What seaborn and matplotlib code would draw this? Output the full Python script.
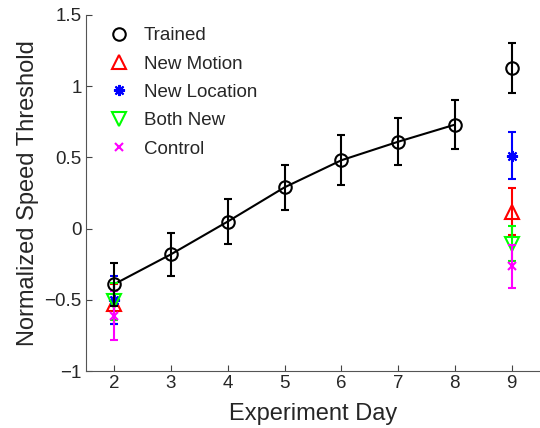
import numpy as np
import pandas as pd
import matplotlib
matplotlib.use("Agg")
import matplotlib.pyplot as plt
import seaborn as sns
from matplotlib.lines import Line2D

# values
trained_days = [2, 3, 4, 5, 6, 7, 8]
trained_mean = [-0.39, -0.18, 0.05, 0.29, 0.48, 0.61, 0.73]
trained_err = [0.15, 0.15, 0.155, 0.16, 0.175, 0.165, 0.17]

groups = ["Trained", "New Motion", "New Location", "Both New", "Control"]
colors = ["black", "red", "blue", "#00ff00", "magenta"]
markers = ["o", "^", (8, 2, 0), "v", "x"]
sizes = [9, 10.5, 8, 10.5, 6]

day2_mean = [-0.39, -0.53, -0.50, -0.51, -0.61]
day2_err = [0.15, 0.14, 0.17, 0.13, 0.17]
day9_mean = [1.13, 0.12, 0.51, -0.105, -0.265]
day9_err = [0.175, 0.165, 0.165, 0.125, 0.15]

sns.set_style("ticks")
plt.rcParams["font.family"] = ["Liberation Sans", "DejaVu Sans"]

fig = plt.figure(figsize=(5.4, 4.28), dpi=100)
ax = fig.add_axes([0.159, 0.133, 0.841, 0.832])

trained = pd.DataFrame({"day": trained_days, "mean": trained_mean})
sns.lineplot(data=trained, x="day", y="mean", color="black", lw=1.5, ax=ax)
ax.errorbar(trained_days, trained_mean, yerr=trained_err, fmt="o", color="black",
            mfc="none", ms=9, mew=1.5, elinewidth=1.5, capsize=3, capthick=1.5, zorder=5)

for i, g in enumerate(groups):
    if i == 0:
        ax.errorbar([9], [day9_mean[i]], yerr=[day9_err[i]], fmt="o", color="black",
                    mfc="none", ms=9, mew=1.5, elinewidth=1.5, capsize=3, capthick=1.5, zorder=5)
        continue
    ax.errorbar([2, 9], [day2_mean[i], day9_mean[i]], yerr=[day2_err[i], day9_err[i]],
                marker=markers[i], ls="none", color=colors[i], mfc="none", ms=sizes[i], mew=1.5,
                elinewidth=1.5, capsize=3, capthick=1.5, zorder=3 + i * 0.1)

handles = [Line2D([], [], ls="none", marker=markers[i], color=colors[i], mfc="none",
                  ms=sizes[i], mew=1.5) for i in range(len(groups))]
ax.legend(handles, groups, loc="upper left", frameon=False, fontsize=13.5,
          handlelength=1.0, handletextpad=0.8, labelspacing=0.6,
          bbox_to_anchor=(0.02, 1.008), borderaxespad=0.4)

ax.set_xlim(1.5, 9.5)
ax.set_ylim(-1, 1.5)
ax.set_xticks(range(2, 10))
ax.set_yticks([-1, -0.5, 0, 0.5, 1, 1.5])
ax.set_yticklabels(["\u22121", "\u22120.5", "0", "0.5", "1", "1.5"])
ax.tick_params(direction="in", length=4, width=0.8, labelsize=13.5, color="#444444", pad=3)
ax.set_xlabel("Experiment Day", fontsize=17, labelpad=8)
ax.set_ylabel("Normalized Speed Threshold", fontsize=17, labelpad=4)
sns.despine(ax=ax)
for s in ["left", "bottom"]:
    ax.spines[s].set_color("#555555")
    ax.spines[s].set_linewidth(0.8)

fig.savefig("out.png", dpi=100)
